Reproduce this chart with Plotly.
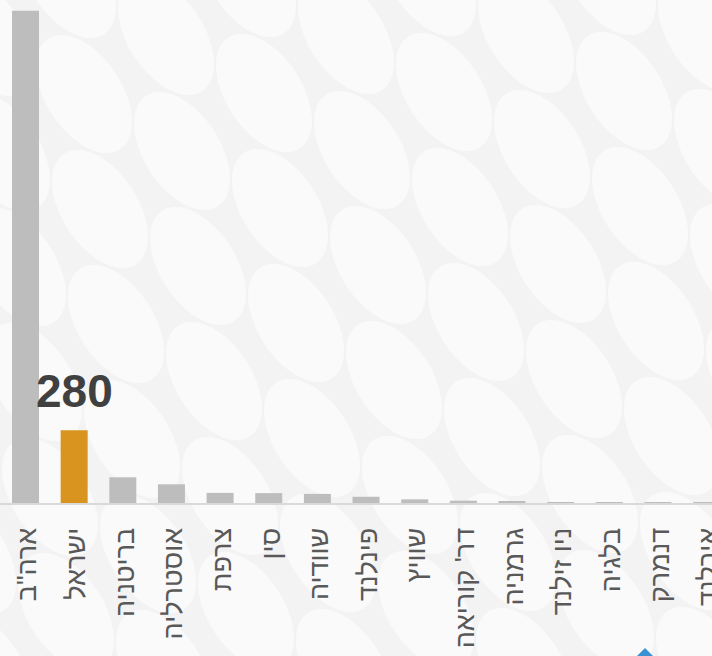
import math
import plotly.graph_objects as go

# ---- data ----
countries = ["ארה\"ב", "ישראל", "בריטניה", "אוסטרליה", "צרפת", "סין", "שוודיה",
             "פינלנד", "שוויץ", "דר' קוריאה", "גרמניה", "ניו זילנד", "בלגיה", "דנמרק", "אירלנד"]
values = [1895, 280, 99, 72, 39, 38, 35, 24, 14, 9, 5, 2, 1, 1, 1]
highlight = "ישראל"
highlight_label = "280"

W, H = 712, 656
PLOT_BOTTOM = 503  # px

GRAY = "#bdbdbd"
ORANGE = "#d8941f"
BG = "#f3f3f3"
colors = [ORANGE if c == highlight else GRAY for c in countries]

def px_x(x):
    return x / W

def px_y(y):
    return (PLOT_BOTTOM - y) / PLOT_BOTTOM

# ---- decorative background: lattice of tilted white ellipses ----
shapes = []
ax, ay = 98, 57
bx, by = 16, 115
ox, oy = 460, 207
ra, rb = 66, 38
ang = math.radians(57)
for i in range(-8, 9):
    for j in range(-6, 8):
        cx = ox + i * ax + j * bx
        cy = oy + i * ay + j * by
        if cx < -90 or cx > W + 90 or cy < -90 or cy > H + 90:
            continue
        pts = []
        for k in range(40):
            t = 2 * math.pi * k / 40
            ex = ra * math.cos(t)
            ey = rb * math.sin(t)
            x = cx + ex * math.cos(ang) - ey * math.sin(ang)
            y = cy + ex * math.sin(ang) + ey * math.cos(ang)
            pts.append((px_x(x), px_y(y)))
        path = "M " + " L ".join(f"{p[0]:.5f},{p[1]:.5f}" for p in pts) + " Z"
        shapes.append(dict(type="path", xref="paper", yref="paper", path=path,
                           fillcolor="#fafafa", line=dict(width=0), layer="below"))

# small blue diamond peeking at the bottom edge
dcx, dcy, dr = 645, 663, 15
dpath = (f"M {px_x(dcx):.5f},{px_y(dcy - dr):.5f} L {px_x(dcx + dr):.5f},{px_y(dcy):.5f} "
         f"L {px_x(dcx):.5f},{px_y(dcy + dr):.5f} L {px_x(dcx - dr):.5f},{px_y(dcy):.5f} Z")
shapes.append(dict(type="path", xref="paper", yref="paper", path=dpath,
                   fillcolor="#3a92d5", line=dict(width=0), layer="above"))

fig = go.Figure(go.Bar(x=countries, y=values, marker=dict(color=colors, line=dict(width=0)),
                       hoverinfo="skip"))

fig.add_annotation(x=highlight, y=values[countries.index(highlight)],
                   text="<b>" + highlight_label + "</b>",
                   showarrow=False, yanchor="bottom", yshift=11,
                   font=dict(family="Liberation Sans, Arial, sans-serif", size=46, color="#404040"))

spacing = 48.65
x0 = -25.5 / spacing
fig.update_layout(
    width=W, height=H,
    margin=dict(l=0, r=0, t=0, b=H - PLOT_BOTTOM, pad=0, autoexpand=False),
    paper_bgcolor=BG, plot_bgcolor="rgba(0,0,0,0)",
    showlegend=False,
    bargap=0.445,
    shapes=shapes,
    xaxis=dict(type="category", range=[x0, x0 + W / spacing], tickangle=-90, automargin=False,
               showgrid=False, zeroline=False, showline=True, linecolor="#d9d9d9", linewidth=2,
               ticks="", ticklabelstandoff=12, ticklabelshift=2, ticklabeloverflow="allow",
               tickfont=dict(family="Liberation Sans, Arial, sans-serif", size=27, color="#595959")),
    yaxis=dict(range=[0, PLOT_BOTTOM / 0.2597], visible=False, showgrid=False, zeroline=False,
               automargin=False),
)

fig.write_html("out.html", config={"displayModeBar": False},
               post_script="document.body.style.margin='0';document.body.style.background='" + BG + "';")
